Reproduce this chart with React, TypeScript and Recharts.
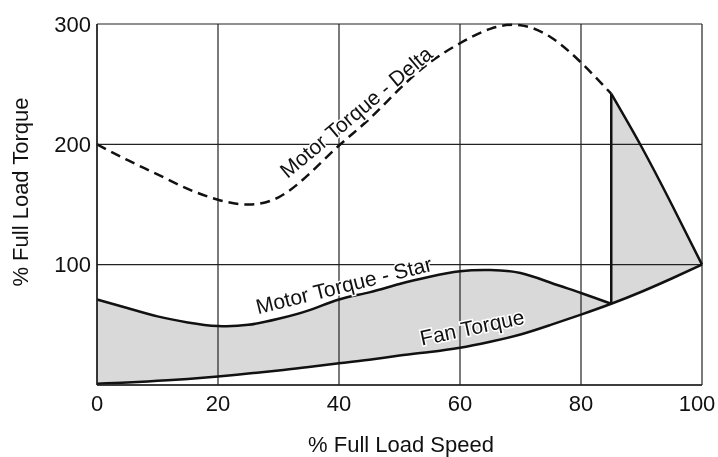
import {
  ComposedChart,
  Area,
  Line,
  XAxis,
  YAxis,
  CartesianGrid,
  ReferenceLine,
  ReferenceDot,
  Label,
} from "recharts";

// % full load speed
const speed = [0, 5, 10, 15, 20, 25, 30, 35, 40, 45, 50, 55, 60, 65, 70, 75, 80, 85, 90, 95, 100];
// % full load torque
const fanTorque = [1, 2, 3.5, 5, 7, 9.5, 12, 15, 18, 21, 24.5, 27.5, 31, 36, 42, 50, 58.5, 67.5, 77.5, 88.5, 100];
const starTorque = [71, 64, 57, 52, 49, 50, 55, 62, 71, 77, 84, 90, 94.5, 95.5, 93, 85, 76.5, 67.5];
const deltaTorque = [200, 187, 175, 163, 154, 150, 156, 175, 199, 221, 246, 268, 284, 296, 299, 289, 268, 242, 198, 150, 100];
const switchSpeed = 85;

const xTicks = [0, 20, 40, 60, 80, 100];
const yTicks = [0, 100, 200, 300];

const font = "'Liberation Sans', Arial, Helvetica, sans-serif";
const ink = "#111";
const curve = "natural";

const fanData = speed.map((s, i) => ({ speed: s, torque: fanTorque[i] }));
const starData = starTorque.map((t, i) => ({ speed: speed[i], torque: t }));
const deltaData = speed.map((s, i) => ({ speed: s, torque: deltaTorque[i] }));
const deltaDashed = deltaData.filter((d) => d.speed <= switchSpeed);
const deltaSolid = deltaData.filter((d) => d.speed >= switchSpeed);

const starFill = starData.map((d, i) => ({ speed: d.speed, range: [fanTorque[i], d.torque] }));
const deltaFill = deltaSolid.map((d) => ({
  speed: d.speed,
  range: [fanTorque[speed.indexOf(d.speed)], d.torque],
}));

const switchIdx = speed.indexOf(switchSpeed);

const curveLabel = (text: string, angle: number) => (p: any) => (
  <text
    x={p.cx}
    y={p.cy}
    transform={`rotate(${angle} ${p.cx} ${p.cy})`}
    textAnchor="middle"
    dominantBaseline="central"
    fontSize={21}
    fontFamily={font}
    fill={ink}
    stroke="#fff"
    strokeWidth={3}
    paintOrder="stroke"
  >
    {text}
  </text>
);

// keep the last label inside the page edge
const SpeedTick = (p: any) => (
  <text
    x={p.x + (p.payload.value === 100 ? -5 : 0)}
    y={p.y}
    dy="0.71em"
    textAnchor="middle"
    fontSize={22}
    fontFamily={font}
    fill={ink}
  >
    {p.payload.value}
  </text>
);

export default function App() {
  return (
    <div style={{ position: "fixed", left: 0, top: 0 }}>
      <ComposedChart
        width={718}
        height={457}
        margin={{ top: 24, right: 16, bottom: 0, left: 0 }}
        style={{ fontFamily: font }}
      >
        <Area
          data={starFill}
          dataKey="range"
          type={curve}
          stroke="none"
          fill="#d9d9d9"
          fillOpacity={1}
          isAnimationActive={false}
        />
        <Area
          data={deltaFill}
          dataKey="range"
          type={curve}
          stroke="none"
          fill="#d9d9d9"
          fillOpacity={1}
          isAnimationActive={false}
        />
        <CartesianGrid stroke="#222" strokeWidth={1.2} zIndex={150} />
        <XAxis
          dataKey="speed"
          type="number"
          domain={[0, 100]}
          ticks={xTicks}
          tickLine={false}
          tickSize={6}
          tickMargin={4}
          axisLine={{ stroke: "#222", strokeWidth: 1.5 }}
          tick={<SpeedTick />}
          height={72}
          allowDuplicatedCategory={false}
        >
          <Label
            content={() => (
              <text x={401} y={444} textAnchor="middle" dominantBaseline="central" fontSize={22} fill={ink}>
                % Full Load Speed
              </text>
            )}
          />
        </XAxis>
        <YAxis
          type="number"
          domain={[0, 300]}
          ticks={yTicks}
          tickFormatter={(v: number) => (v === 0 ? "" : String(v))}
          tickLine={false}
          tickSize={6}
          tickMargin={0}
          axisLine={{ stroke: "#222", strokeWidth: 1.5 }}
          tick={{ fontSize: 22, fill: ink }}
          width={97}
        >
          <Label
            content={() => (
              <text
                x={20}
                y={192}
                transform="rotate(-90 20 192)"
                textAnchor="middle"
                dominantBaseline="central"
                fontSize={22}
                fill={ink}
              >
                % Full Load Torque
              </text>
            )}
          />
        </YAxis>
        <Line
          data={fanData}
          dataKey="torque"
          type={curve}
          stroke={ink}
          strokeWidth={2.5}
          dot={false}
          isAnimationActive={false}
        />
        <Line
          data={starData}
          dataKey="torque"
          type={curve}
          stroke={ink}
          strokeWidth={2.5}
          dot={false}
          isAnimationActive={false}
        />
        <Line
          data={deltaDashed}
          dataKey="torque"
          type={curve}
          stroke={ink}
          strokeWidth={2.5}
          strokeDasharray="10 6"
          dot={false}
          isAnimationActive={false}
        />
        <Line
          data={deltaSolid}
          dataKey="torque"
          type={curve}
          stroke={ink}
          strokeWidth={2.5}
          dot={false}
          isAnimationActive={false}
        />
        <ReferenceLine
          segment={[
            { x: switchSpeed, y: fanTorque[switchIdx] },
            { x: switchSpeed, y: deltaTorque[switchIdx] },
          ]}
          stroke={ink}
          strokeWidth={2.5}
        />
        <ReferenceDot x={42.8} y={227} r={0} shape={curveLabel("Motor Torque - Delta", -40)} />
        <ReferenceDot x={40.8} y={83} r={0} shape={curveLabel("Motor Torque - Star", -14)} />
        <ReferenceDot x={62} y={48} r={0} shape={curveLabel("Fan Torque", -12)} />
      </ComposedChart>
    </div>
  );
}
